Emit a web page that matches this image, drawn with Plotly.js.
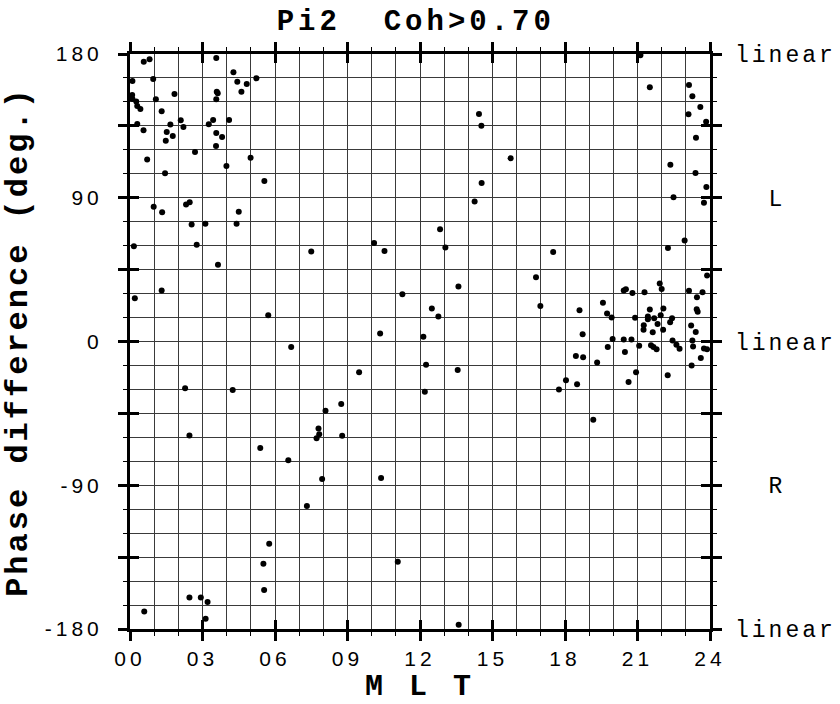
<!DOCTYPE html>
<html>
<head>
<meta charset="utf-8">
<script src="https://cdn.plot.ly/plotly-3.0.1.min.js"></script>
<style>
  html, body { margin: 0; padding: 0; background: #fff; }
  #chart { width: 840px; height: 704px; }
  .xtick text, .ytick text { letter-spacing: 4px; }
  .y2tick text { letter-spacing: 3px; }
  .gtitle { letter-spacing: 4px; }
  .ytitle { letter-spacing: 3px; }
  .xtitle { letter-spacing: 4px; }
</style>
</head>
<body>
<div id="chart"></div>
<script>
// Magnetic local time (hours) of each event
const mlt = [
  0.57, 0.81, 3.57, 0.10, 0.96, 4.28, 4.44, 4.83, 5.23, 4.61,
  3.59, 3.63, 0.09, 0.10, 0.26, 0.30, 0.43, 1.07, 1.84, 3.57,
  1.31, 2.10, 2.21, 1.67, 1.52, 1.48, 1.77, 0.30, 0.56, 3.26,
  3.44, 4.10, 3.57, 3.81, 3.56, 2.69, 0.71, 3.99, 4.99, 1.45,
  5.56, 0.98, 1.33, 2.32, 2.47, 4.50, 2.55, 3.12, 4.41, 0.16,
  2.76, 3.64, 7.50, 1.31, 0.20, 5.72, 6.67, 2.28, 4.25, 2.46,
  5.39, 7.80, 7.83, 7.72, 10.10, 10.53, 13.05, 13.59, 11.27, 12.49,
  12.76, 10.35, 12.14, 12.25, 13.56, 9.48, 12.20, 8.74, 8.09, 8.78,
  17.51, 22.26, 22.95, 16.80, 16.98, 23.88, 18.60, 18.73, 18.45, 18.75,
  19.33, 19.57, 19.74, 19.93, 19.97, 19.77, 20.43, 20.52, 20.79, 21.29,
  20.90, 20.43, 20.75, 20.48, 21.07, 20.94, 20.63, 17.75, 18.04, 18.50,
  19.17, 21.51, 21.43, 21.43, 21.69, 21.83, 21.96, 22.07, 22.43, 22.35,
  21.92, 22.00, 21.26, 21.25, 21.63, 22.06, 21.56, 21.66, 21.79, 22.45,
  22.61, 22.74, 22.25, 23.13, 23.69, 23.46, 23.45, 23.49, 23.22, 23.41,
  23.27, 23.30, 23.75, 23.88, 23.62, 23.24, 14.44, 14.54, 15.75, 14.55,
  14.26, 12.83, 21.12, 21.51, 23.13, 23.27, 23.60, 23.11, 23.84, 23.42,
  22.36, 23.40, 23.85, 22.49, 23.75, 6.55, 7.32, 5.76, 5.52, 5.55,
  0.59, 2.46, 2.93, 3.21, 3.13, 7.95, 10.39, 11.08, 13.60
];
// Phase difference (degrees)
const phase = [
  175.2, 176.7, 177.5, 163.1, 164.4, 168.5, 162.7, 161.2, 164.8, 156.4,
  156.4, 155.4, 154.3, 151.8, 150.2, 147.5, 145.6, 151.6, 155.0, 151.6,
  144.1, 138.5, 134.3, 135.8, 131.2, 125.7, 128.7, 136.2, 132.3, 136.0,
  138.7, 138.7, 130.6, 128.1, 122.4, 118.7, 113.9, 109.9, 115.1, 105.3,
  100.5, 84.4, 80.9, 85.7, 87.2, 81.3, 73.2, 73.8, 73.8, 59.7,
  60.5, 48.0, 56.3, 31.9, 27.1, 16.5, -3.5, -29.2, -30.3, -58.9,
  -66.6, -54.5, -58.0, -60.5, 61.7, 56.7, 58.8, 34.4, 29.6, 20.6,
  15.6, 5.0, 2.9, -14.6, -17.9, -19.2, -31.5, -39.2, -43.4, -59.0,
  56.1, 58.6, 63.2, 40.3, 22.3, 41.3, 19.6, 4.6, -9.0, -9.8,
  -13.2, 24.2, 17.5, 15.0, 1.5, -3.5, 31.9, 32.7, 30.3, 30.9,
  14.8, 1.3, 1.3, -6.5, -2.7, -19.2, -25.4, -30.1, -24.2, -26.7,
  -49.0, 20.0, 15.6, 14.0, 14.6, 11.0, 16.5, 20.6, 14.6, 12.1,
  36.3, 32.9, 10.2, 7.3, 5.8, 7.3, -2.3, -3.5, -4.8, 0.6,
  -2.1, -4.6, -21.1, 31.7, 30.9, 27.7, 20.2, 18.7, 10.0, 6.0,
  0.6, -3.2, -4.4, -4.8, -10.4, -15.1, 142.5, 135.1, 114.7, 99.3,
  87.6, 70.3, 179.2, 159.2, 160.6, 153.5, 146.8, 142.3, 137.6, 127.6,
  110.7, 105.5, 96.8, 90.3, 86.8, -74.3, -103.0, -126.6, -139.1, -155.6,
  -169.0, -160.2, -160.2, -163.1, -173.6, -86.1, -85.5, -137.9, -177.3
];

const xTickVals = [0, 3, 6, 9, 12, 15, 18, 21, 24];
const xTickText = ["00", "03", "06", "09", "12", "15", "18", "21", "24"];
const yTickVals = [-180, -135, -90, -45, 0, 45, 90, 135, 180];
const yTickText = ["-180", "", "-90", "", "0", "", "90", "", "180"];
const polTickText = ["linear", "", "\u00a0\u00a0R", "", "linear", "", "\u00a0\u00a0L", "", "linear"];

const gridCol = "#3a3a3a";
const tickFont = {family: "Liberation Sans, Arial, sans-serif", size: 21, color: "#000"};
const monoFont = "Liberation Mono, Courier New, monospace";

const trace = {
  x: mlt, y: phase, type: "scatter", mode: "markers",
  marker: {color: "#000", size: 6},
  xaxis: "x", yaxis: "y", hoverinfo: "x+y", showlegend: false
};
// same data on the overlay axes (transparent) so the crossing ticks and right-hand labels are drawn
const overlayTrace = {
  x: mlt, y: phase, type: "scatter", mode: "markers",
  marker: {color: "#000", size: 6, opacity: 0},
  xaxis: "x2", yaxis: "y2", hoverinfo: "skip", showlegend: false
};

const layout = {
  width: 840, height: 704,
  margin: {l: 129.5, r: 129.7, t: 54, b: 74.7, pad: 0},
  paper_bgcolor: "#fff", plot_bgcolor: "#fff",
  title: {text: "Pi2  Coh>0.70", x: 0.495, xanchor: "center", y: 0.972, yanchor: "middle",
          font: {family: monoFont, size: 29, color: "#000", weight: "bold"}},
  xaxis: {
    range: [0, 24], tickmode: "array", tickvals: xTickVals, ticktext: xTickText,
    ticks: "outside", ticklen: 9, tickwidth: 3, tickcolor: "#000",
    showline: true, linewidth: 3, linecolor: "#000", mirror: "ticks",
    showgrid: true, gridcolor: gridCol, gridwidth: 1, zeroline: false,
    tickfont: tickFont,
    minor: {tickmode: "linear", tick0: 0, dtick: 1, showgrid: true, gridcolor: gridCol, gridwidth: 1,
            ticks: "outside", ticklen: 4, tickwidth: 1, tickcolor: "#000"},
    title: {text: "M L T", standoff: 20, font: {family: monoFont, size: 30, color: "#000", weight: "bold"}},
    fixedrange: true
  },
  xaxis2: {
    overlaying: "x", anchor: "y2", side: "bottom", range: [0, 24],
    tickmode: "array", tickvals: xTickVals, ticks: "inside", ticklen: 9, tickwidth: 3, tickcolor: "#000",
    mirror: "ticks", showticklabels: false, showgrid: false, zeroline: false, showline: false,
    fixedrange: true
  },
  yaxis: {
    range: [-180, 180], tickmode: "array", tickvals: yTickVals, ticktext: yTickText,
    ticks: "outside", ticklen: 9, tickwidth: 3, tickcolor: "#000",
    showline: true, linewidth: 3, linecolor: "#000", mirror: "ticks",
    showgrid: true, gridcolor: gridCol, gridwidth: 1, zeroline: false,
    tickfont: tickFont, ticklabelstandoff: 11,
    minor: {tickmode: "linear", tick0: -180, dtick: 15, showgrid: true, gridcolor: gridCol, gridwidth: 1,
            ticks: "outside", ticklen: 4, tickwidth: 1, tickcolor: "#000"},
    title: {text: "Phase difference (deg.)", standoff: 26,
            font: {family: monoFont, size: 32, color: "#000", weight: "bold"}},
    fixedrange: true
  },
  yaxis2: {
    overlaying: "y", anchor: "x2", side: "right", range: [-180, 180],
    tickmode: "array", tickvals: yTickVals, ticktext: polTickText,
    ticks: "inside", ticklen: 9, tickwidth: 3, tickcolor: "#000", mirror: "ticks",
    showticklabels: true, ticklabelstandoff: 24,
    tickfont: {family: monoFont, size: 23, color: "#000"},
    showgrid: false, zeroline: false, showline: false, fixedrange: true
  }
};

Plotly.newPlot("chart", [trace, overlayTrace], layout, {displayModeBar: false, staticPlot: true});
</script>
</body>
</html>
